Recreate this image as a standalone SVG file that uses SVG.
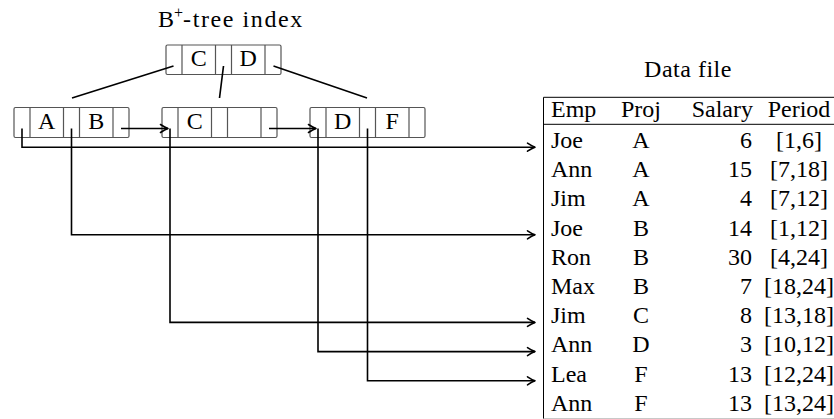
<svg xmlns="http://www.w3.org/2000/svg" width="834" height="419" viewBox="0 0 834 419">
<style>
.box{fill:#fff;stroke:#555;stroke-width:1.2}
.div{fill:none;stroke:#555;stroke-width:1.2}
.t{font-family:'Liberation Serif','DejaVu Serif',serif;font-size:24px;fill:#000}
.k{text-anchor:middle}
.conn{fill:none;stroke:#000;stroke-width:1.6}
.rule{stroke:#000;stroke-width:1}
</style>
<defs>
<marker id="arr" markerUnits="userSpaceOnUse" viewBox="-9 -6 11 12" refX="0" refY="0" markerWidth="11" markerHeight="12" orient="auto">
<path d="M-7.5,-4 Q-3,-1 0,0 Q-3,1 -7.5,4" fill="none" stroke="#000" stroke-width="1.6" stroke-linecap="round" stroke-linejoin="round"/>
</marker>
</defs>

<text class="t" x="158" y="27">B<tspan font-size="16" dy="-9">+</tspan><tspan dy="9" letter-spacing="1.6">-tree index</tspan></text>
<text class="t k" x="688" y="77" letter-spacing="0.5">Data file</text>

<g id="root">
<rect class="box" x="166" y="45" width="115" height="29.5" rx="1.5"/>
<path class="div" d="M182,45V74.5M215.5,45V74.5M231.5,45V74.5M265,45V74.5"/>
<text class="t k" x="198.75" y="66">C</text>
<text class="t k" x="248.25" y="66">D</text>
</g>

<g id="leaf1">
<rect class="box" x="14" y="107.5" width="115" height="30" rx="1.5"/>
<path class="div" d="M30,107.5V137.5M63.5,107.5V137.5M79.5,107.5V137.5M113,107.5V137.5"/>
<text class="t k" x="46.75" y="129">A</text>
<text class="t k" x="96.25" y="129">B</text>
</g>

<g id="leaf2">
<rect class="box" x="162" y="107.5" width="115" height="30" rx="1.5"/>
<path class="div" d="M178,107.5V137.5M211.5,107.5V137.5M227.5,107.5V137.5M261,107.5V137.5"/>
<text class="t k" x="194.75" y="129">C</text>
</g>

<g id="leaf3">
<rect class="box" x="310" y="107.5" width="115" height="30" rx="1.5"/>
<path class="div" d="M326,107.5V137.5M359.5,107.5V137.5M375.5,107.5V137.5M409,107.5V137.5"/>
<text class="t k" x="342.75" y="129">D</text>
<text class="t k" x="392.25" y="129">F</text>
</g>

<g id="datafile">
<line class="rule" x1="543.5" y1="97.3" x2="834" y2="97.3"/>
<line class="rule" x1="543.5" y1="124.3" x2="834" y2="124.3"/>
<line class="rule" x1="543.5" y1="97.3" x2="543.5" y2="419"/>
<line x1="543.5" y1="418.5" x2="834" y2="418.5" stroke="#c8c8c8" stroke-width="1"/>
<g class="t">
<text x="551" y="117.3">Emp</text>
<text x="641" y="117.3" text-anchor="middle">Proj</text>
<text x="753" y="117.3" text-anchor="end">Salary</text>
<text x="799" y="117.3" text-anchor="middle">Period</text>
</g>
<g class="t">
<text x="551" y="148">Joe</text><text x="641" y="148" text-anchor="middle">A</text><text x="752" y="148" text-anchor="end">6</text><text x="799" y="148" text-anchor="middle">[1,6]</text>
<text x="551" y="177.2">Ann</text><text x="641" y="177.2" text-anchor="middle">A</text><text x="752" y="177.2" text-anchor="end">15</text><text x="799" y="177.2" text-anchor="middle">[7,18]</text>
<text x="551" y="206.4">Jim</text><text x="641" y="206.4" text-anchor="middle">A</text><text x="752" y="206.4" text-anchor="end">4</text><text x="799" y="206.4" text-anchor="middle">[7,12]</text>
<text x="551" y="235.6">Joe</text><text x="641" y="235.6" text-anchor="middle">B</text><text x="752" y="235.6" text-anchor="end">14</text><text x="799" y="235.6" text-anchor="middle">[1,12]</text>
<text x="551" y="264.8">Ron</text><text x="641" y="264.8" text-anchor="middle">B</text><text x="752" y="264.8" text-anchor="end">30</text><text x="799" y="264.8" text-anchor="middle">[4,24]</text>
<text x="551" y="294">Max</text><text x="641" y="294" text-anchor="middle">B</text><text x="752" y="294" text-anchor="end">7</text><text x="799" y="294" text-anchor="middle">[18,24]</text>
<text x="551" y="323.2">Jim</text><text x="641" y="323.2" text-anchor="middle">C</text><text x="752" y="323.2" text-anchor="end">8</text><text x="799" y="323.2" text-anchor="middle">[13,18]</text>
<text x="551" y="352.4">Ann</text><text x="641" y="352.4" text-anchor="middle">D</text><text x="752" y="352.4" text-anchor="end">3</text><text x="799" y="352.4" text-anchor="middle">[10,12]</text>
<text x="551" y="381.6">Lea</text><text x="641" y="381.6" text-anchor="middle">F</text><text x="752" y="381.6" text-anchor="end">13</text><text x="799" y="381.6" text-anchor="middle">[12,24]</text>
<text x="551" y="410.8">Ann</text><text x="641" y="410.8" text-anchor="middle">F</text><text x="752" y="410.8" text-anchor="end">13</text><text x="799" y="410.8" text-anchor="middle">[13,24]</text>
</g>
</g>

<g id="connectors">
<path class="conn" d="M173.5,66L72,98"/>
<path class="conn" d="M223.5,66L219.5,98"/>
<path class="conn" d="M273.5,66L367,98"/>
<path class="conn" d="M121,128.5H168" marker-end="url(#arr)"/>
<path class="conn" d="M269,128.5H316" marker-end="url(#arr)"/>
<path class="conn" d="M22,128.5V147.2H535" marker-end="url(#arr)"/>
<path class="conn" d="M71.5,128.5V234.8H535" marker-end="url(#arr)"/>
<path class="conn" d="M170,128.5V322.4H535" marker-end="url(#arr)"/>
<path class="conn" d="M318,128.5V351.6H535" marker-end="url(#arr)"/>
<path class="conn" d="M367.5,128.5V380.8H535" marker-end="url(#arr)"/>
</g>
</svg>
